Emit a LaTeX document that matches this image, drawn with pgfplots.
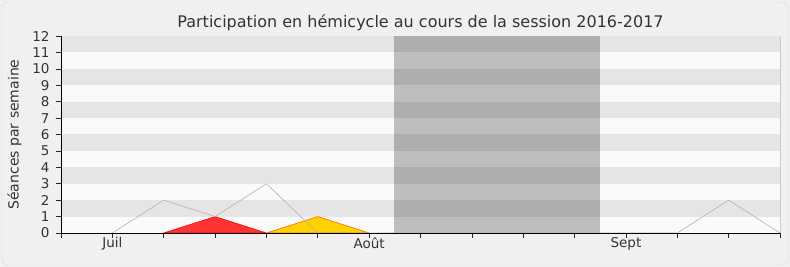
\documentclass[border=0pt]{standalone}
\usepackage{pgfplots}
\pgfplotsset{compat=1.18}
\usepackage{fontspec}
\setmainfont{DejaVu Sans}
\definecolor{bgc}{HTML}{F0F0F0}
\definecolor{bandd}{HTML}{E5E5E5}
\definecolor{bandl}{HTML}{FAFAFA}
\definecolor{txt}{HTML}{333333}
\definecolor{redf}{HTML}{FF3333}
\definecolor{yelf}{HTML}{FFD200}
\definecolor{yelb}{HTML}{FF6A00}
\begin{document}
\begin{tikzpicture}
\fill[bgc] (-61pt,-34pt) rectangle (729pt,233pt);
\draw[white!85!black, rounded corners=6pt, fill=bgc] (-59pt,-32pt) rectangle (727pt,231pt);
\begin{axis}[
  scale only axis, width=719pt, height=197pt,
  xmin=0, xmax=14, ymin=0, ymax=12,
  axis lines*=left,
  axis line style={black!85, line width=0.8pt},
  every outer x axis line/.style={-}, every outer y axis line/.style={-},
  xtick={0,...,14}, xticklabels={}, 
  extra x ticks={1,6,11}, extra x tick labels={Juil,Août,Sept},
  extra x tick style={major tick length=0pt, tick style={draw=none}},
  ytick={0,...,12},
  tick align=outside, major tick length=5pt,
  tick style={black!85, line width=0.6pt},
  ticklabel style={font=\fontsize{13.5}{14}\selectfont, text=txt},
  yticklabel style={xshift=-3pt},
  xticklabel style={yshift=-1pt},
  /pgf/number format/assume math mode=true,
  ylabel={Séances par semaine},
  ylabel style={font=\fontsize{14}{15}\selectfont, text=txt, yshift=4pt},
  title={Participation en hémicycle au cours de la session 2016-2017},
  title style={font=\fontsize{16}{18}\selectfont, text=txt, yshift=-4pt},
  clip=false,
  axis on top,
]
% bands
\fill[bandl] (axis cs:0,0) rectangle (axis cs:14,12);
\pgfplotsforeachungrouped \k in {1,3,5,7,9,11}{
  \edef\tmp{\noexpand\fill[bandd] (axis cs:0,\k) rectangle (axis cs:14,\k+1);}\tmp
}
\draw[white!80!black] (axis cs:14,0) -- (axis cs:14,12);
% vacation
\fill[black, opacity=0.24] (axis cs:6.48,0) rectangle (axis cs:10.5,12);
% red area
\addplot[draw=red, fill=redf, line width=0.6pt] coordinates {(2,0) (3,1) (4,0)} -- cycle;
% yellow area
\addplot[draw=yelb, fill=yelf, line width=0.6pt] coordinates {(4,0) (5,1) (6,0)} -- cycle;
% gray line
\addplot[black!30, line width=0.6pt] coordinates {(1,0) (2,2) (3,1) (4,3) (5,0) (6,0) (7,0) (8,0) (9,0) (10,0) (11,0) (12,0) (13,2) (14,0)};
\end{axis}
\end{tikzpicture}
\end{document}
